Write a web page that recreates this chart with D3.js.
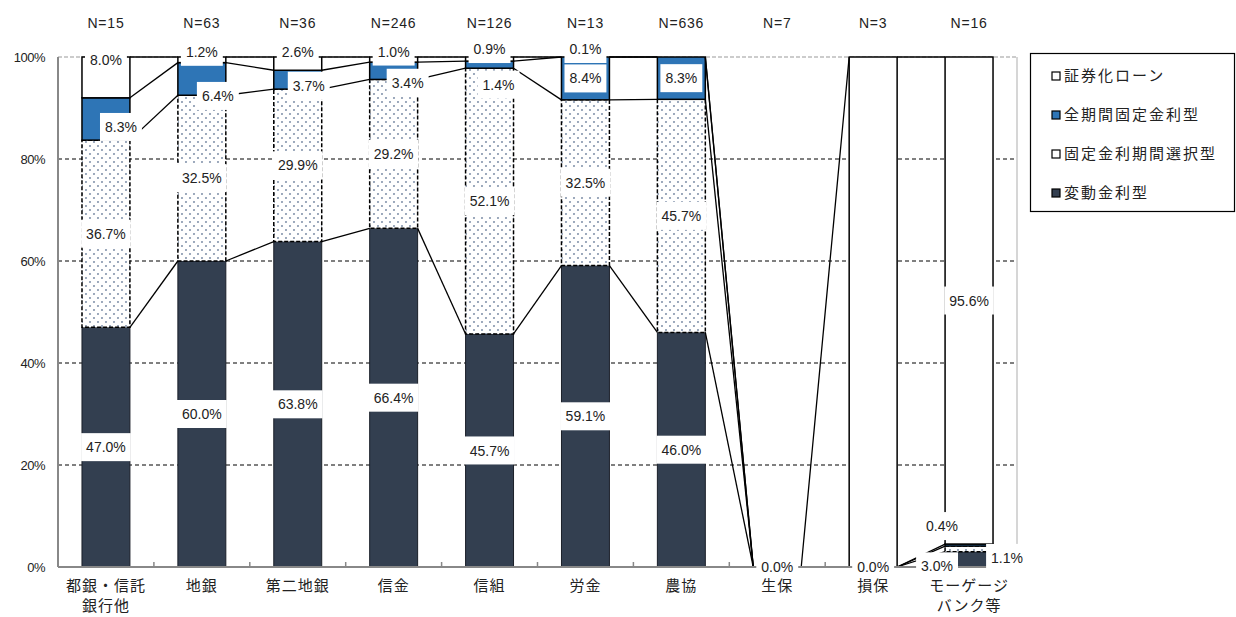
<!DOCTYPE html>
<html><head><meta charset="utf-8">
<script src="https://cdn.jsdelivr.net/npm/d3@7"></script>
<style>
html,body{margin:0;padding:0;background:#fff;}
svg{display:block;}
</style></head>
<body>
<svg id="chart" width="1236" height="617"></svg>
<script>
// ---------------- data ----------------
const categories = ["都銀・信託\n銀行他", "地銀", "第二地銀", "信金", "信組", "労金", "農協", "生保", "損保", "モーゲージ\nバンク等"];
const nLabels = ["N=15", "N=63", "N=36", "N=246", "N=126", "N=13", "N=636", "N=7", "N=3", "N=16"];
const seriesNames = ["変動金利型", "固定金利期間選択型", "全期間固定金利型", "証券化ローン"];
const variableRate   = [47.0, 60.0, 63.8, 66.4, 45.7, 59.1, 46.0, 0.0, 0.0, 3.0];
const fixedSelect    = [36.7, 32.5, 29.9, 29.2, 52.1, 32.5, 45.7, 0.0, 0.0, 1.1];
const fullFixed      = [8.3, 6.4, 3.7, 3.4, 1.4, 8.4, 8.3, 0.0, 0.0, 0.4];
const securitized    = [8.0, 1.2, 2.6, 1.0, 0.9, 0.1, 0.0, 0.0, 100.0, 95.6];
const yTicks = [0, 20, 40, 60, 80, 100];
const legendOrder = ["証券化ローン", "全期間固定金利型", "固定金利期間選択型", "変動金利型"];

// ---------------- layout (label placement, not data) ----------------
// per series: array over categories of [dx, dy] pixel nudges, or null to hide
const labelNudge = [
  [[0,0],[0,0],[0,0],[0,0],[0,0],[0,0],[0,0],[0,0],[0,0],[-32,7]],
  [[0,0],[0,0],[0,0],[0,0],[0,0],[0,0],[0,0],null,null,[38,9]],
  [[15,8],[16,17],[11,6],[14,12],[9,20],[0,0],[0,0],null,null,[-27,-19]],
  [[0,-17],[0,-8],[0,-12],[0,-8],[0,-10],[0,-8],null,null,null,[0,0]]
];

const colors = ["#333F50", "url(#dots)", "#2E75B6", "#ffffff"];
const strokes = ["#1a1f28", "#000", "#000", "#000"];

const svg = d3.select("#chart");
const plot = {left: 58, right: 1017, top: 57, bottom: 567};

const defs = svg.append("defs");
const pat = defs.append("pattern").attr("id","dots").attr("patternUnits","userSpaceOnUse")
  .attr("width",8).attr("height",8);
pat.append("rect").attr("width",8).attr("height",8).attr("fill","#fff");
pat.append("circle").attr("cx",2).attr("cy",2).attr("r",1.05).attr("fill","#8494ac");
pat.append("circle").attr("cx",6).attr("cy",6).attr("r",1.05).attr("fill","#8494ac");

const x = d3.scaleBand().domain(categories).range([plot.left, plot.right]).paddingInner(0.5).paddingOuter(0.25);
const y = d3.scaleLinear().domain([0,100]).range([plot.bottom, plot.top]);
const bw = x.bandwidth();
const step = x.step();

const seriesVals = [variableRate, fixedSelect, fullFixed, securitized];
const stacked = categories.map((c,i) => {
  let cum = 0;
  return seriesVals.map(arr => { const y0 = cum; cum += arr[i]; return {y0, y1: cum, v: arr[i]}; });
});
const clamp = v => Math.min(100, v);

// gridlines
svg.append("g").selectAll("line").data(yTicks.filter(t => t > 0 && t < 100)).join("line")
  .attr("x1", plot.left).attr("x2", plot.right)
  .attr("y1", d => y(d)).attr("y2", d => y(d))
  .attr("stroke","#000").attr("stroke-width",1).attr("stroke-dasharray","4,3");
svg.append("line").attr("x1",plot.left).attr("x2",plot.right).attr("y1",y(100)).attr("y2",y(100))
  .attr("stroke","#999").attr("stroke-width",1.2).attr("stroke-dasharray","4,2");
svg.append("line").attr("x1",plot.right).attr("x2",plot.right).attr("y1",y(100)).attr("y2",y(0))
  .attr("stroke","#bbb").attr("stroke-width",1.2);

// y axis labels
svg.append("g").selectAll("text").data(yTicks).join("text")
  .attr("x", 45).attr("y", d => y(d)).attr("dy","0.35em")
  .attr("text-anchor","end")
  .style("font-family","'Liberation Sans', Arial, sans-serif").style("font-size","13px")
  .style("letter-spacing","-0.5px").attr("fill","#222")
  .text(d => d + "%");

// bars
const gBars = svg.append("g");
categories.forEach((c,i) => {
  stacked[i].forEach((s,k) => {
    if (s.v <= 0) return;
    const top = y(clamp(s.y1)), bot = y(clamp(s.y0));
    gBars.append("rect")
      .attr("x", x(c)).attr("y", top).attr("width", bw).attr("height", Math.max(0, bot-top))
      .attr("fill", colors[k]).attr("stroke", strokes[k]).attr("stroke-width", k===0?1:1.5)
      .attr("stroke-dasharray", k===1 ? "4,2" : null);
  });
});

// series lines
const gLines = svg.append("g");
for (let i = 0; i < categories.length-1; i++) {
  for (let k = 0; k < 4; k++) {
    gLines.append("line")
      .attr("x1", x(categories[i]) + bw).attr("y1", y(clamp(stacked[i][k].y1)))
      .attr("x2", x(categories[i+1])).attr("y2", y(clamp(stacked[i+1][k].y1)))
      .attr("stroke","#000").attr("stroke-width",1.3);
  }
}

// axes
svg.append("line").attr("x1",plot.left).attr("x2",plot.left).attr("y1",y(100)).attr("y2",y(0))
  .attr("stroke","#888").attr("stroke-width",2);
svg.append("line").attr("x1",plot.left).attr("x2",plot.right).attr("y1",y(0)).attr("y2",y(0))
  .attr("stroke","#888").attr("stroke-width",2);
svg.append("g").selectAll("line").data(d3.range(1, categories.length)).join("line")
  .attr("x1", d => plot.left + d*step).attr("x2", d => plot.left + d*step)
  .attr("y1", y(0)).attr("y2", y(0)-5).attr("stroke","#888").attr("stroke-width",1.5);

// data labels
const gLab = svg.append("g");
categories.forEach((c,i) => {
  stacked[i].forEach((s,k) => {
    const nud = labelNudge[k][i];
    if (!nud) return;
    const cx = x(c) + bw/2 + nud[0];
    const cy = (y(clamp(s.y0)) + y(clamp(s.y1)))/2 + nud[1];
    const g = gLab.append("g");
    const t = g.append("text").attr("x", cx).attr("y", cy).attr("dy","0.36em")
      .attr("text-anchor","middle")
      .style("font-family","'Liberation Sans', Arial, sans-serif").style("font-size","14px")
      .attr("fill","#222").text(s.v.toFixed(1) + "%");
    const bb = t.node().getBBox();
    g.insert("rect","text").attr("x", cx - bb.width/2 - 5).attr("y", cy - 14)
      .attr("width", bb.width + 10).attr("height", 28).attr("fill","#fff");
  });
});

// N labels
svg.append("g").selectAll("text").data(categories).join("text")
  .attr("x", d => x(d) + bw/2).attr("y", 23).attr("dy","0.35em").attr("text-anchor","middle")
  .style("font-family","'Liberation Sans', Arial, sans-serif").style("font-size","14px")
  .style("letter-spacing","0.8px").attr("fill","#222")
  .text((d,i) => nLabels[i]);

// category labels
const gCat = svg.append("g");
categories.forEach(c => {
  c.split("\n").forEach((line, j) => {
    gCat.append("text").attr("x", x(c) + bw/2).attr("y", 586 + j*20).attr("dy","0.35em")
      .attr("text-anchor","middle")
      .style("font-family","'Noto Sans CJK JP', sans-serif").style("font-size","15px")
      .style("letter-spacing","1px").attr("fill","#222").text(line);
  });
});

// legend
const lg = svg.append("g");
lg.append("rect").attr("x",1030.5).attr("y",53.5).attr("width",204).attr("height",158)
  .attr("fill","#fff").attr("stroke","#000").attr("stroke-width",1.2);
legendOrder.forEach((name, j) => {
  const k = seriesNames.indexOf(name);
  const cy = 76 + j*39;
  lg.append("rect").attr("x",1052).attr("y",cy-4).attr("width",8).attr("height",8)
    .attr("fill", k===1 ? "#fff" : colors[k]).attr("stroke","#000").attr("stroke-width",1.2);
  lg.append("text").attr("x",1064).attr("y",cy).attr("dy","0.36em")
    .style("font-family","'Noto Sans CJK JP', sans-serif").style("font-size","15px")
    .style("letter-spacing","2px").attr("fill","#222").text(name);
});
</script>
</body></html>
